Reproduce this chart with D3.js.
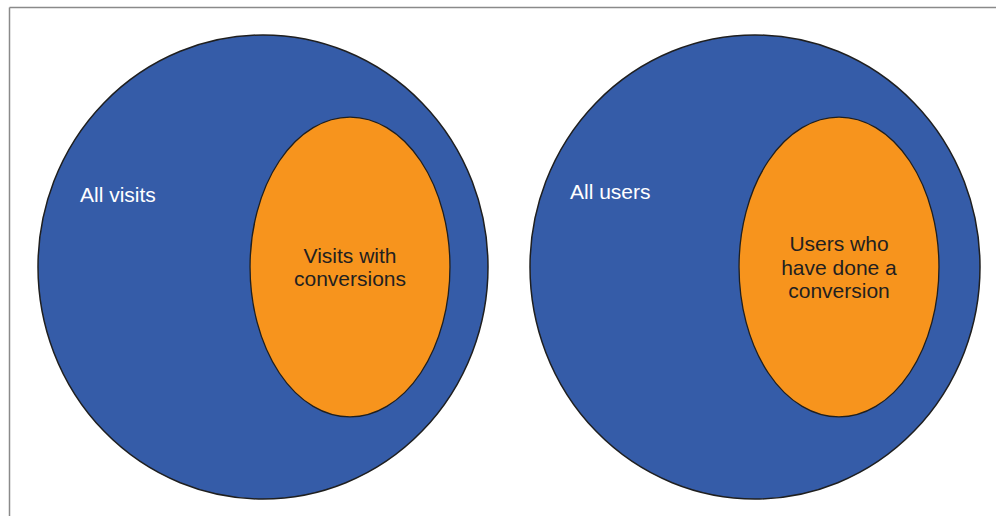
<!DOCTYPE html>
<html>
<head>
<meta charset="utf-8">
<script src="https://cdn.jsdelivr.net/npm/d3@7"></script>
<style>
html,body{margin:0;padding:0;background:#fff;}
svg{display:block;font-family:"Liberation Sans",Arial,Helvetica,sans-serif;}
</style>
</head>
<body>
<svg id="chart" width="996" height="516"></svg>
<script>
// Data
const panels = ["visits", "users"];
const outerLabels = ["All visits", "All users"];
const innerLabels = [["Visits with", "conversions"], ["Users who", "have done a", "conversion"]];
// relative sizes of the sets (outer = whole population, inner = subset)
const outerSize = [1, 1];
const innerSize = [0.29, 0.29];

const svg = d3.select("#chart");
const W = 996, H = 516;

// frame
svg.append("line").attr("x1", 9.5).attr("y1", 7.5).attr("x2", W).attr("y2", 7.5)
  .attr("stroke", "#8a8a8a").attr("stroke-width", 1.5);
svg.append("line").attr("x1", 9.5).attr("y1", 7.5).attr("x2", 9.5).attr("y2", H)
  .attr("stroke", "#8a8a8a").attr("stroke-width", 1.5);

const x = d3.scalePoint().domain(panels).range([263, 755]);
const cy = 267;
const rScaleX = d3.scaleLinear().domain([0, 1]).range([0, 225]);
const rScaleY = d3.scaleLinear().domain([0, 1]).range([0, 232]);
const innerOffset = [87, 84];
const labelDX = [-183, -185];
const labelY = [202, 199];

panels.forEach((p, i) => {
  const cx = x(p);
  const g = svg.append("g");
  g.append("ellipse")
    .attr("cx", cx).attr("cy", cy)
    .attr("rx", rScaleX(outerSize[i])).attr("ry", rScaleY(outerSize[i]))
    .attr("fill", "#355ca8").attr("stroke", "#1f1f1f").attr("stroke-width", 1.5);
  const irx = Math.sqrt(innerSize[i]) * rScaleX(1) * 0.825;
  const iry = Math.sqrt(innerSize[i]) * rScaleY(1) * 1.2;
  const icx = cx + innerOffset[i];
  g.append("ellipse")
    .attr("cx", icx).attr("cy", cy)
    .attr("rx", irx).attr("ry", iry)
    .attr("fill", "#f7941d").attr("stroke", "#1f1f1f").attr("stroke-width", 1.3);
  g.append("text")
    .attr("x", cx + labelDX[i]).attr("y", labelY[i])
    .attr("fill", "#fff").attr("font-size", 21)
    .text(outerLabels[i]);
  const lines = innerLabels[i];
  const lh = 23.8;
  const top = cy - (lines.length - 1) * lh / 2 + 7.5;
  g.append("text")
    .attr("text-anchor", "middle").attr("fill", "#231f20").attr("font-size", 21)
    .selectAll("tspan").data(lines).join("tspan")
    .attr("x", icx).attr("y", (d, k) => top + k * lh)
    .text(d => d);
});
</script>
</body>
</html>
